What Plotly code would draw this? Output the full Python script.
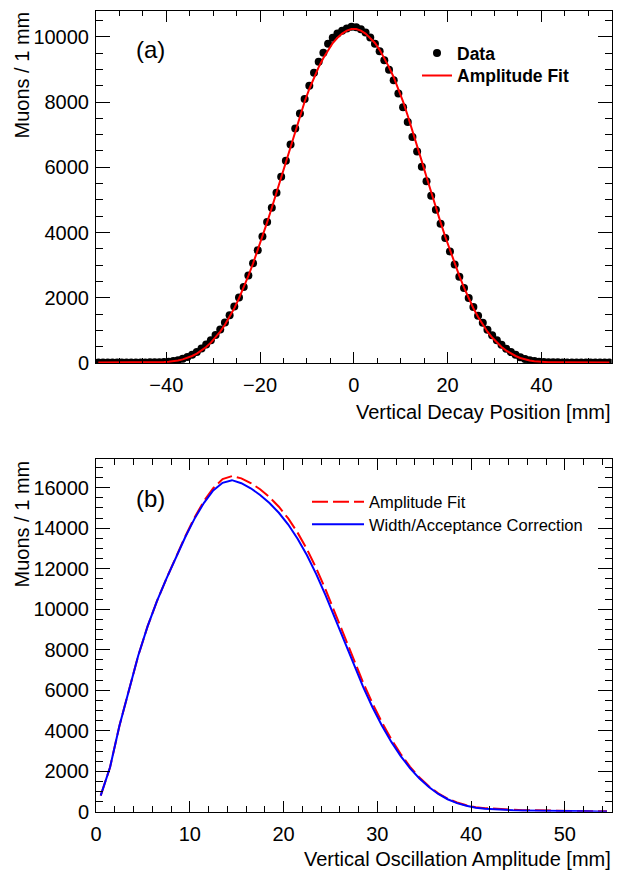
import plotly.graph_objects as go

# ---------------- Panel (a): vertical decay position ----------------
pos_x = [-54.5 + i for i in range(110)]  # 1 mm bin centres

data_right = [10290, 10230, 10130, 9980, 9790, 9560, 9280, 8990, 8670, 8260,
              7840, 7390, 6930, 6480, 6020, 5570, 5130, 4700, 4270, 3830,
              3420, 3020, 2645, 2300, 1990, 1720, 1450, 1235, 1020, 850,
              700, 560, 440, 335, 250, 180, 125, 85, 58, 40,
              30, 25, 22, 20, 19, 19, 18, 18, 17, 17,
              16, 16, 16, 15, 15]
data_left = [10306, 10257, 10184, 10103, 9970, 9786, 9510, 9234, 8897, 8498,
             8091, 7652, 7192, 6702, 6200, 5710, 5219, 4760, 4320, 3880,
             3460, 3060, 2680, 2330, 2010, 1730, 1465, 1245, 1030, 855,
             700, 565, 445, 338, 252, 182, 127, 86, 59, 41,
             31, 25, 22, 20, 19, 19, 18, 18, 17, 17,
             16, 16, 16, 15, 15]
data_counts = data_left[::-1] + data_right

fit_half = [10240, 10190, 10100, 9970, 9810, 9600, 9350, 9070, 8760, 8400,
            8010, 7580, 7130, 6660, 6180, 5700, 5220, 4760, 4310, 3870,
            3450, 3050, 2670, 2310, 1980, 1680, 1410, 1170, 960, 780,
            625, 490, 380, 290, 215, 155, 110, 78, 55, 40,
            30, 24, 21, 20, 19, 18, 18, 17, 17, 16,
            16, 16, 15, 15, 15]
fit_counts = fit_half[::-1] + fit_half

# ---------------- Panel (b): vertical oscillation amplitude ----------------
amp_x = [0.5 + i for i in range(55)]
amp_fit = [800, 2200, 4250, 6050, 7700, 9150, 10400, 11500, 12560, 13580,
           14520, 15330, 15980, 16420, 16570, 16460, 16230, 15920, 15530, 15060,
           14480, 13780, 12960, 12010, 10950, 9820, 8660, 7490, 6370, 5340,
           4410, 3580, 2850, 2220, 1690, 1260, 910, 650, 460, 320,
           230, 180, 145, 118, 98, 82, 70, 60, 52, 45,
           39, 34, 30, 27, 25]
amp_corr = [800, 2200, 4250, 6050, 7700, 9150, 10400, 11500, 12540, 13540,
            14460, 15240, 15860, 16240, 16370, 16220, 15970, 15640, 15240, 14760,
            14180, 13480, 12660, 11720, 10670, 9550, 8400, 7250, 6150, 5150,
            4250, 3450, 2750, 2150, 1640, 1220, 880, 620, 430, 295,
            205, 155, 120, 97, 80, 66, 55, 46, 39, 33,
            28, 24, 21, 18, 16]

W, H = 625, 871
FONT = "Liberation Sans, Arial, Helvetica, sans-serif"

def px_x(p):
    return p / W

def px_y(p):
    return 1 - p / H

fig = go.Figure()

fig.add_trace(go.Scatter(x=pos_x, y=data_counts, mode="markers", name="<b>Data</b>",
                         marker=dict(color="black", size=8),
                         xaxis="x", yaxis="y", legend="legend"))
fig.add_trace(go.Scatter(x=pos_x, y=fit_counts, mode="lines", name="<b>Amplitude Fit</b>",
                         line=dict(color="red", width=2),
                         xaxis="x", yaxis="y", legend="legend3"))

fig.add_trace(go.Scatter(x=amp_x, y=amp_fit, mode="lines", name="Amplitude Fit",
                         line=dict(color="red", width=2, dash="16px,5px"),
                         xaxis="x2", yaxis="y2", legend="legend2"))
fig.add_trace(go.Scatter(x=amp_x, y=amp_corr, mode="lines", name="Width/Acceptance Correction",
                         line=dict(color="blue", width=2),
                         xaxis="x2", yaxis="y2", legend="legend4"))

xdom = [px_x(96), px_x(611.7)]

def xaxis_style(rng, dtick, mdtick, anchor):
    return dict(domain=xdom, range=rng, dtick=dtick, tick0=0, ticks="inside", ticklen=11,
                tickwidth=1, tickcolor="black", showline=True, linecolor="black", linewidth=1,
                mirror="allticks", showgrid=False, zeroline=False, anchor=anchor,
                automargin=False, tickformat="d",
                tickfont=dict(family=FONT, size=20, color="black"), ticklabelstandoff=4,
                minor=dict(dtick=mdtick, tick0=0, ticks="inside", ticklen=5.5, tickwidth=1,
                           tickcolor="black", showgrid=False))

def yaxis_style(rng, dom, anchor):
    return dict(domain=dom, range=rng, dtick=2000, tick0=0, ticks="inside", ticklen=14,
                tickwidth=1, tickcolor="black", showline=True, linecolor="black", linewidth=1,
                mirror="allticks", showgrid=False, zeroline=False, anchor=anchor,
                automargin=False, tickformat="d",
                tickfont=dict(family=FONT, size=20, color="black"), ticklabelstandoff=2,
                minor=dict(dtick=500, tick0=0, ticks="inside", ticklen=7, tickwidth=1,
                           tickcolor="black", showgrid=False))

def leg(xp, yp, size):
    return dict(x=px_x(xp), y=px_y(yp), xanchor="left", yanchor="middle",
                bgcolor="rgba(0,0,0,0)", borderwidth=0,
                font=dict(family=FONT, size=size, color="black"))

leg_b1 = leg(307, 502, 16.5)
leg_b1["itemwidth"] = 52
leg_b2 = leg(307, 524.5, 16.5)
leg_b2["itemwidth"] = 52

fig.update_layout(
    width=W, height=H, margin=dict(l=0, r=0, t=0, b=0, pad=0, autoexpand=False),
    paper_bgcolor="white", plot_bgcolor="white",
    font=dict(family=FONT, color="black"),
    xaxis=xaxis_style([-55, 55], 20, 5, "y"),
    yaxis=yaxis_style([0, 10800], [px_y(363), px_y(10.7)], "x"),
    xaxis2=xaxis_style([0, 55], 10, 2, "y2"),
    yaxis2=yaxis_style([0, 17400], [px_y(811.8), px_y(459.3)], "x2"),
    legend=leg(417, 53, 17.5),
    legend3=leg(417, 75.5, 17.5),
    legend2=leg_b1,
    legend4=leg_b2,
    showlegend=True,
)

annos = [
    dict(text="Muons / 1 mm", x=px_x(21), y=px_y(10), xanchor="center", yanchor="top",
         textangle=-90, font=dict(size=20)),
    dict(text="Muons / 1 mm", x=px_x(21), y=px_y(459), xanchor="center", yanchor="top",
         textangle=-90, font=dict(size=20)),
    dict(text="Vertical Decay Position [mm]", x=px_x(613), y=px_y(412), xanchor="right",
         yanchor="middle", font=dict(size=20)),
    dict(text="Vertical Oscillation Amplitude [mm]", x=px_x(613), y=px_y(859), xanchor="right",
         yanchor="middle", font=dict(size=20)),
    dict(text="(a)", x=px_x(150), y=px_y(49), xanchor="center", yanchor="middle",
         font=dict(size=24)),
    dict(text="(b)", x=px_x(150), y=px_y(498), xanchor="center", yanchor="middle",
         font=dict(size=24)),
]
for a in annos:
    a.update(xref="paper", yref="paper", showarrow=False)
    a["font"] = dict(family=FONT, color="black", **a["font"])
fig.update_layout(annotations=annos)

fig.write_html("out.html", post_script="document.body.style.margin='0';")
